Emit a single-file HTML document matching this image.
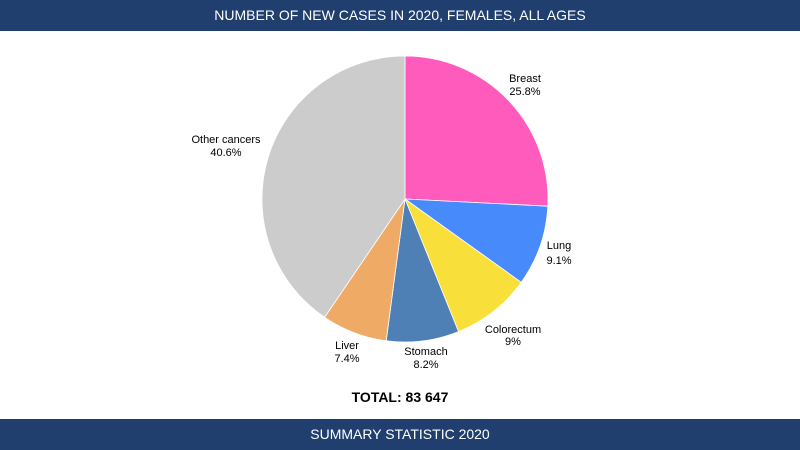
<!DOCTYPE html>
<html><head><meta charset="utf-8"><style>
html,body{margin:0;padding:0;width:800px;height:450px;overflow:hidden;background:#fff;font-family:"Liberation Sans","DejaVu Sans",sans-serif;}
.bar{position:absolute;left:0;width:800px;background:#203f6f;color:#fff;text-align:center;font-size:14px;}
</style></head><body>
<div class="bar" style="top:0;height:31px;line-height:31px;">NUMBER OF NEW CASES IN 2020, FEMALES, ALL AGES</div>
<svg width="800" height="450" style="position:absolute;left:0;top:0" font-family="Liberation Sans, DejaVu Sans, sans-serif" font-size="11">
<g stroke="#fff" stroke-width="0.8">
<path d="M405,199 L405,56 A143,143 0 0 1 547.8,206.2 Z" fill="#ff5bbd"/>
<path d="M405,199 L547.8,206.2 A143,143 0 0 1 521.2,282.3 Z" fill="#478afc"/>
<path d="M405,199 L521.2,282.3 A143,143 0 0 1 458.5,331.6 Z" fill="#f9df3a"/>
<path d="M405,199 L458.5,331.6 A143,143 0 0 1 386.2,340.8 Z" fill="#4e7fb5"/>
<path d="M405,199 L386.2,340.8 A143,143 0 0 1 324.6,317.3 Z" fill="#efab66"/>
<path d="M405,199 L324.6,317.3 A143,143 0 0 1 405,56 Z" fill="#cccccc"/>
</g>
<g fill="#000" text-anchor="middle">
<text x="525" y="82">Breast</text><text x="525" y="95">25.8%</text>
<text x="559" y="249">Lung</text><text x="559" y="264">9.1%</text>
<text x="513" y="333">Colorectum</text><text x="513" y="345">9%</text>
<text x="426" y="355">Stomach</text><text x="426" y="368">8.2%</text>
<text x="347" y="349">Liver</text><text x="347" y="362">7.4%</text>
<text x="226" y="143">Other cancers</text><text x="226" y="156">40.6%</text>
<text x="400" y="402" font-size="14" font-weight="bold">TOTAL: 83 647</text>
</g>
</svg>
<div class="bar" style="top:419px;height:31px;line-height:31px;">SUMMARY STATISTIC 2020</div>
</body></html>
